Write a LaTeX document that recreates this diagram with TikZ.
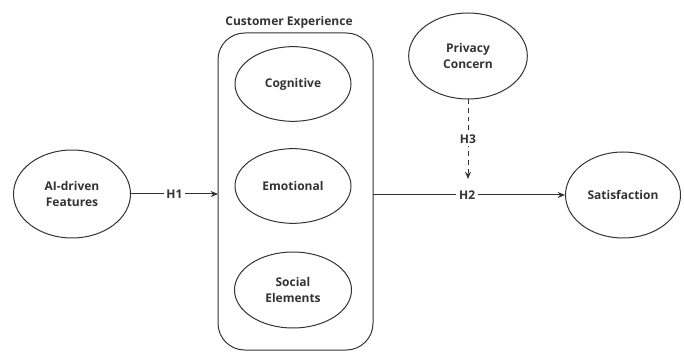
\documentclass[tikz,border=0pt]{standalone}
\usepackage{fontspec}
\setmainfont{Open Sans}
\usetikzlibrary{shapes.geometric,arrows.meta}
\definecolor{ink}{HTML}{333333}
\begin{document}
\begin{tikzpicture}[x=0.75pt,y=-0.75pt,
  every node/.style={text=ink,font=\fontsize{9pt}{11.5pt}\selectfont\bfseries,align=center},
  oval/.style={ellipse,draw=ink,line width=0.75pt,inner sep=0pt},
  link/.style={draw=ink,line width=0.75pt,-{Stealth[length=5.5pt,width=4.5pt]}},
  hyp/.style={fill=white,inner sep=2pt}]
\useasboundingbox (0,0) rectangle (684,352);
% construct group box
\draw[ink,line width=0.75pt,rounded corners=20pt] (218,33) rectangle (373,350);
\node (grp) at (289,22) {Customer Experience};
\node[oval,minimum width=87.75pt,minimum height=66pt] (ai) at (72,194) {AI-driven\\Features};
\node[oval,minimum width=87pt,minimum height=56pt] (cog) at (293,84) {Cognitive};
\node[oval,minimum width=87pt,minimum height=56pt] (emo) at (293,186) {Emotional};
\node[oval,minimum width=87.75pt,minimum height=57pt] (soc) at (293,290) {Social\\Elements};
\node[oval,minimum width=89pt,minimum height=64.5pt] (priv) at (468,56) {Privacy\\Concern};
\node[oval,minimum width=86.25pt,minimum height=64.5pt] (sat) at (623,195) {Satisfaction};
\coordinate (boxL) at (218,194);
\coordinate (boxR) at (373,195);
\coordinate (h3end) at (468,179);
% hypothesised paths
\draw[link] (ai.east |- boxL) -- node[hyp] {H1} (boxL);
\draw[link] (boxR) -- node[hyp,pos=0.49] {H2} (sat.west);
\draw[link,dashed,dash pattern=on 3.5pt off 3pt] (priv.south) -- node[hyp] {H3} (h3end);
\end{tikzpicture}
\end{document}
